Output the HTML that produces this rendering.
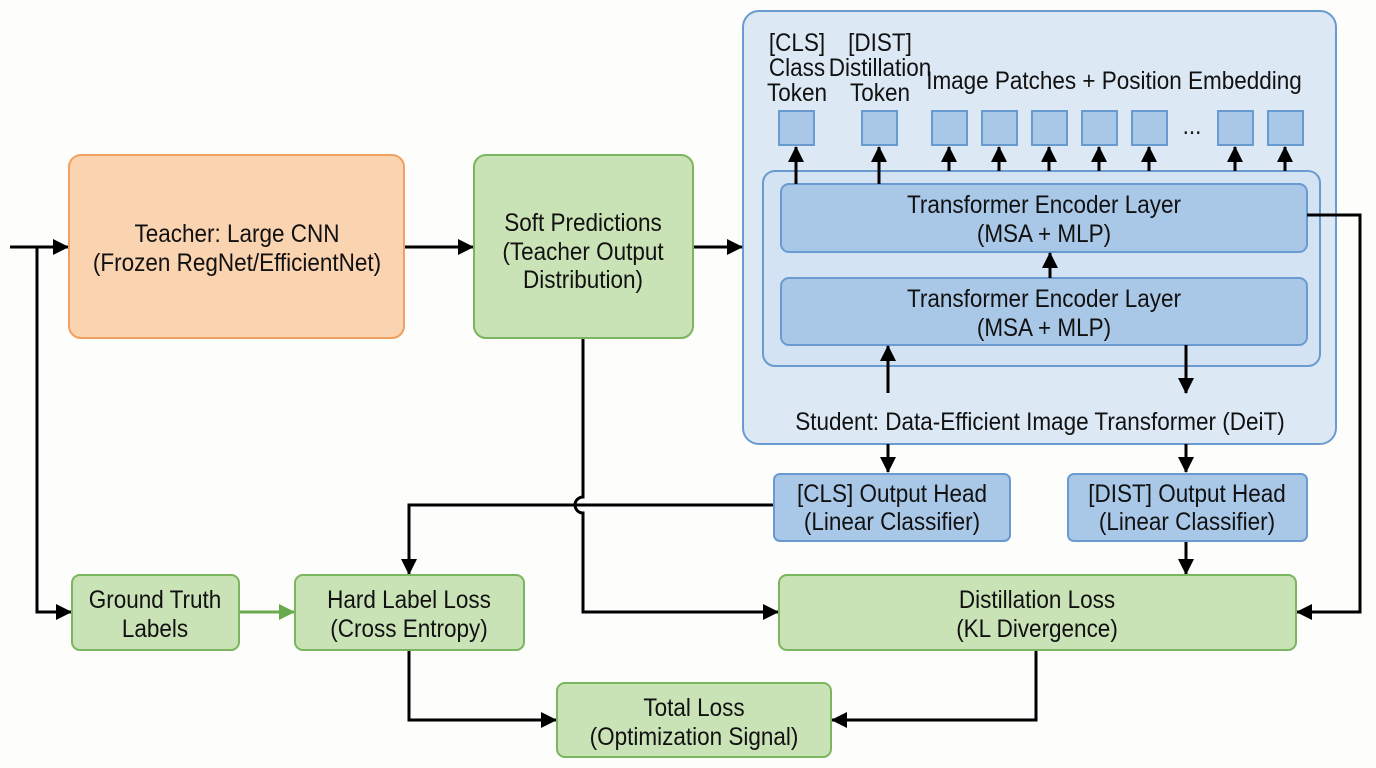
<!DOCTYPE html>
<html><head><meta charset="utf-8"><style>
html,body{margin:0;padding:0;background:#fdfdfb;}
svg{display:block}
text{font-family:"Liberation Sans Narrow","Liberation Sans",sans-serif;font-size:25px;fill:#111;text-anchor:middle;transform-box:fill-box;transform-origin:center;transform:scaleX(0.9);}
</style></head><body>
<svg width="1376" height="768" viewBox="0 0 1376 768" xmlns="http://www.w3.org/2000/svg">
<defs>
<marker id="ab" markerWidth="16" markerHeight="16" refX="15" refY="8" orient="auto" markerUnits="userSpaceOnUse" viewBox="0 0 16 16"><path d="M0,0 L16,8 L0,16 z" fill="#000"/></marker>
<marker id="g" markerWidth="16" markerHeight="16" refX="15" refY="8" orient="auto" markerUnits="userSpaceOnUse" viewBox="0 0 16 16"><path d="M0,0 L16,8 L0,16 z" fill="#6aaa4e"/></marker>
</defs>

<rect x="743" y="11" width="593" height="433" rx="16" fill="#dce9f5" stroke="#6a9bd0" stroke-width="2"/>
<rect x="763" y="171" width="557" height="195" rx="12" fill="#d3e3f3" stroke="#6a9bd0" stroke-width="2"/>
<rect x="781" y="184" width="526" height="68" rx="8" fill="#a9c8e8" stroke="#6a9bd0" stroke-width="2"/>
<rect x="781" y="278" width="526" height="67" rx="8" fill="#a9c8e8" stroke="#6a9bd0" stroke-width="2"/>
<text x="1044" y="213">Transformer Encoder Layer</text>
<text x="1044" y="242">(MSA + MLP)</text>
<text x="1044" y="307">Transformer Encoder Layer</text>
<text x="1044" y="336">(MSA + MLP)</text>
<text x="1040" y="430">Student: Data-Efficient Image Transformer (DeiT)</text>

<text x="797" y="51">[CLS]</text><text x="797" y="76">Class</text><text x="797" y="101">Token</text>
<text x="880" y="51">[DIST]</text><text x="880" y="76">Distillation</text><text x="880" y="101">Token</text>
<text x="1114" y="89">Image Patches + Position Embedding</text>

<g fill="#a9c8e8" stroke="#6a9bd0" stroke-width="2">
<rect x="779" y="111" width="35" height="34"/>
<rect x="862" y="111" width="35" height="34"/>
<rect x="932" y="111" width="35" height="34"/>
<rect x="982" y="111" width="35" height="34"/>
<rect x="1032" y="111" width="35" height="34"/>
<rect x="1082" y="111" width="35" height="34"/>
<rect x="1132" y="111" width="35" height="34"/>
<rect x="1218" y="111" width="35" height="34"/>
<rect x="1268" y="111" width="35" height="34"/>
</g>
<text x="1192" y="134">...</text>

<g stroke="#000" stroke-width="3" fill="none" marker-end="url(#ab)">
<line x1="796" y1="184" x2="796" y2="147"/>
<line x1="879" y1="184" x2="879" y2="147"/>
<line x1="949" y1="171" x2="949" y2="147"/>
<line x1="999" y1="171" x2="999" y2="147"/>
<line x1="1049" y1="171" x2="1049" y2="147"/>
<line x1="1099" y1="171" x2="1099" y2="147"/>
<line x1="1149" y1="171" x2="1149" y2="147"/>
<line x1="1235" y1="171" x2="1235" y2="147"/>
<line x1="1285" y1="171" x2="1285" y2="147"/>
<line x1="1050" y1="278" x2="1050" y2="253"/>
<line x1="888" y1="393" x2="888" y2="346"/>
<line x1="1186" y1="345" x2="1186" y2="393"/>
<line x1="888" y1="444" x2="888" y2="472"/>
<line x1="1186" y1="444" x2="1186" y2="472"/>
<line x1="1186" y1="541" x2="1186" y2="574"/>
<line x1="10" y1="247" x2="68" y2="247"/>
<line x1="404" y1="247" x2="473" y2="247"/>
<line x1="693" y1="247" x2="742" y2="247"/>
<polyline points="37,247 37,612 71,612"/>
<path d="M583,338 L583,497 A8,8 0 0 0 583,513 L583,612 L778,612"/>
<polyline points="774,505 409,505 409,574"/>
<polyline points="409,650 409,720 556,720"/>
<polyline points="1036,650 1036,720 832,720"/>
<polyline points="1307,215 1360,215 1360,612 1297,612"/>
</g>
<line x1="239" y1="612" x2="294" y2="612" stroke="#6aaa4e" stroke-width="3" marker-end="url(#g)"/>

<rect x="774" y="474" width="236" height="67" rx="6" fill="#a9c8e8" stroke="#6a9bd0" stroke-width="2"/>
<text x="892" y="502">[CLS] Output Head</text><text x="892" y="530">(Linear Classifier)</text>
<rect x="1068" y="474" width="239" height="67" rx="6" fill="#a9c8e8" stroke="#6a9bd0" stroke-width="2"/>
<text x="1187" y="502">[DIST] Output Head</text><text x="1187" y="530">(Linear Classifier)</text>

<rect x="69" y="155" width="335" height="183" rx="12" fill="#fad3b0" stroke="#f0a060" stroke-width="2"/>
<text x="237" y="242">Teacher: Large CNN</text><text x="237" y="271">(Frozen RegNet/EfficientNet)</text>
<rect x="474" y="155" width="219" height="183" rx="12" fill="#c9e2b6" stroke="#7cb55f" stroke-width="2"/>
<text x="583" y="231">Soft Predictions</text><text x="583" y="260">(Teacher Output</text><text x="583" y="288">Distribution)</text>

<g fill="#c9e2b6" stroke="#7cb55f" stroke-width="2">
<rect x="72" y="575" width="167" height="75" rx="8"/>
<rect x="295" y="575" width="229" height="75" rx="8"/>
<rect x="779" y="575" width="517" height="75" rx="8"/>
<rect x="557" y="683" width="274" height="74" rx="8"/>
</g>
<text x="155" y="608">Ground Truth</text><text x="155" y="637">Labels</text>
<text x="409" y="608">Hard Label Loss</text><text x="409" y="637">(Cross Entropy)</text>
<text x="1037" y="608">Distillation Loss</text><text x="1037" y="637">(KL Divergence)</text>
<text x="694" y="716">Total Loss</text><text x="694" y="745">(Optimization Signal)</text>
</svg>
</body></html>
